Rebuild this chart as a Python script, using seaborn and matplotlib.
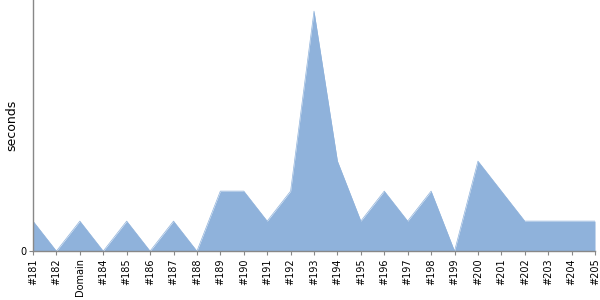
import matplotlib
matplotlib.use("Agg")
import matplotlib.pyplot as plt
import seaborn as sns
import numpy as np
import pandas as pd

categories = ["#181", "#182", "Domain", "#184", "#185", "#186", "#187", "#188",
              "#189", "#190", "#191", "#192", "#193", "#194", "#195", "#196",
              "#197", "#198", "#199", "#200", "#201", "#202", "#203", "#204", "#205"]
seconds = [1, 0, 1, 0, 1, 0, 1, 0, 2, 2, 1, 2, 8, 3, 1, 2, 1, 2, 0, 3, 2, 1, 1, 1, 1]

sns.set_theme(style="white")
plt.rcParams['font.family'] = ['DejaVu Sans']

df = pd.DataFrame({"pos": np.arange(len(categories)), "seconds": seconds})

fig = plt.figure(figsize=(6, 3), dpi=100)
ax = fig.add_axes([0.055, 0.163, 0.9367, 0.837])
color = "#8fb2db"
sns.lineplot(data=df, x="pos", y="seconds", ax=ax, color=color, linewidth=0.5)
ax.fill_between(df["pos"], 0, df["seconds"], color=color, linewidth=0)

ax.set_xlim(0, len(categories) - 1)
ax.set_ylim(0, 8.37)
ax.set_xticks(df["pos"])
ax.set_xticklabels(categories, rotation=90, fontsize=7, color="black")
ax.set_yticks([0])
ax.set_yticklabels(["0"], fontsize=7, color="black")
ax.set_xlabel("")
ax.set_ylabel("seconds", fontsize=9, color="black")
ax.yaxis.set_label_coords(-0.027, 0.5)

for s in ["top", "right"]:
    ax.spines[s].set_visible(False)
for s in ["left", "bottom"]:
    ax.spines[s].set_color("#888888")
    ax.spines[s].set_linewidth(1)
ax.tick_params(axis="both", which="both", length=3, width=0.8, color="#888888", pad=2, bottom=True, left=True)

fig.savefig("out.png", dpi=100)
